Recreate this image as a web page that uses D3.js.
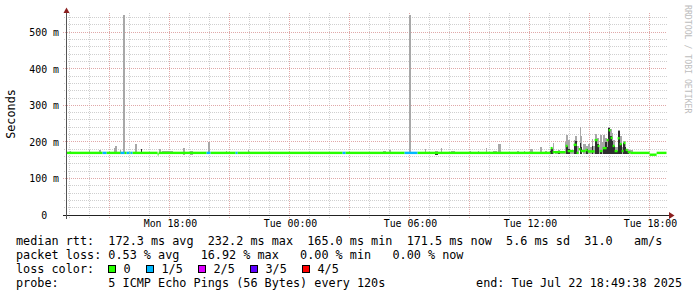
<!DOCTYPE html>
<html>
<head>
<meta charset="utf-8">
<script src="https://cdn.jsdelivr.net/npm/d3@7"></script>
<style>
body { margin: 0; background: #fff; }
svg { display: block; }
text { font-family: "DejaVu Sans Mono", monospace; }
</style>
</head>
<body>
<script>
// time window of the graph
const startTime = new Date(Date.UTC(2025, 6, 21, 12, 49, 38));
const endTime = new Date(Date.UTC(2025, 6, 22, 18, 49, 38));

// median rtt in ms, each step holds until the next time
const medianTimes = ["Mon 12:50", "Mon 14:38", "Mon 14:50", "Mon 15:32", "Mon 15:44", "Mon 15:50", "Mon 15:59",
  "Mon 16:02", "Mon 16:08", "Mon 17:23", "Mon 17:26", "Mon 19:50", "Mon 20:02", "Mon 21:17", "Mon 21:23",
  "Tue 02:38", "Tue 02:47", "Tue 05:44", "Tue 06:23", "Tue 13:02", "Tue 13:08", "Tue 13:47", "Tue 13:53",
  "Tue 14:11", "Tue 14:20", "Tue 14:26", "Tue 14:32", "Tue 14:47", "Tue 14:53", "Tue 15:14", "Tue 15:23",
  "Tue 15:29", "Tue 15:38", "Tue 15:50", "Tue 15:56", "Tue 16:02", "Tue 16:08", "Tue 16:14", "Tue 16:23",
  "Tue 16:29", "Tue 16:35", "Tue 16:41", "Tue 16:47", "Tue 16:53", "Tue 17:02", "Tue 17:59", "Tue 18:20"];
const medianMs = [170, 170, 170, 170, 170, 170, 170,
  170, 170, 166, 170, 170, 170, 170, 170,
  170, 170, 170, 170, 183, 172, 189, 175,
  192, 170, 180, 175, 178, 174, 205, 189,
  175, 183, 205, 232, 211, 189, 175, 210,
  194, 175, 197, 178, 172, 170, 165, 170];
// lost pings out of 5 for each step
const medianLoss = [0, 1, 0, 1, 0, 1, 0,
  1, 0, 0, 0, 1, 0, 1, 0,
  1, 0, 1, 0, 0, 0, 0, 0,
  0, 0, 0, 0, 0, 0, 0, 0,
  0, 0, 0, 0, 0, 0, 0, 0,
  0, 0, 0, 0, 0, 0, 0, 0];

// smoke (spread of the pings), in ms
const smokeFrom = ["Mon 12:59", "Mon 13:56", "Mon 14:26", "Mon 15:11", "Mon 15:14", "Mon 15:29", "Mon 15:38",
  "Mon 16:14", "Mon 16:32", "Mon 17:26", "Mon 17:35", "Mon 18:38", "Mon 18:59", "Mon 19:53", "Mon 20:47",
  "Mon 21:53", "Tue 04:38", "Tue 04:56", "Tue 05:56", "Tue 06:44", "Tue 07:14", "Tue 07:32", "Tue 08:02",
  "Tue 08:59", "Tue 09:23", "Tue 09:47", "Tue 10:08", "Tue 10:23", "Tue 11:20", "Tue 11:41", "Tue 11:59",
  "Tue 12:29", "Tue 12:44", "Tue 12:59", "Tue 13:02", "Tue 13:08", "Tue 13:14", "Tue 13:23", "Tue 13:29",
  "Tue 13:44", "Tue 13:47", "Tue 13:53", "Tue 13:59", "Tue 14:11", "Tue 14:14", "Tue 14:20", "Tue 14:29",
  "Tue 14:32", "Tue 14:38", "Tue 14:47", "Tue 14:53", "Tue 14:59", "Tue 15:05", "Tue 15:08", "Tue 15:14",
  "Tue 15:20", "Tue 15:26", "Tue 15:29", "Tue 15:35", "Tue 15:38", "Tue 15:44", "Tue 15:50", "Tue 15:53",
  "Tue 15:59", "Tue 16:05", "Tue 16:08", "Tue 16:14", "Tue 16:23", "Tue 16:29", "Tue 16:35", "Tue 16:38",
  "Tue 16:44", "Tue 16:47", "Tue 16:56"];
const smokeTo = ["Mon 13:02", "Mon 13:59", "Mon 14:32", "Mon 15:14", "Mon 15:20", "Mon 15:32", "Mon 15:44",
  "Mon 16:20", "Mon 16:35", "Mon 17:32", "Mon 18:08", "Mon 18:44", "Mon 19:08", "Mon 19:59", "Mon 20:50",
  "Mon 21:56", "Tue 04:47", "Tue 05:02", "Tue 06:02", "Tue 06:47", "Tue 07:23", "Tue 07:35", "Tue 08:14",
  "Tue 09:02", "Tue 09:26", "Tue 09:50", "Tue 10:20", "Tue 10:32", "Tue 11:26", "Tue 11:44", "Tue 12:08",
  "Tue 12:35", "Tue 12:50", "Tue 13:02", "Tue 13:08", "Tue 13:11", "Tue 13:23", "Tue 13:29", "Tue 13:44",
  "Tue 13:47", "Tue 13:53", "Tue 13:59", "Tue 14:11", "Tue 14:14", "Tue 14:20", "Tue 14:26", "Tue 14:32",
  "Tue 14:35", "Tue 14:47", "Tue 14:53", "Tue 14:59", "Tue 15:05", "Tue 15:08", "Tue 15:14", "Tue 15:20",
  "Tue 15:26", "Tue 15:29", "Tue 15:35", "Tue 15:38", "Tue 15:44", "Tue 15:50", "Tue 15:53", "Tue 15:59",
  "Tue 16:05", "Tue 16:08", "Tue 16:14", "Tue 16:23", "Tue 16:29", "Tue 16:35", "Tue 16:38", "Tue 16:44",
  "Tue 16:47", "Tue 16:56", "Tue 17:08"];
const smokeHighMs = [176, 177, 178, 183, 189, 177, 547,
  194, 180, 180, 175, 183, 176, 200, 176,
  178, 176, 178, 548, 180, 176, 183, 175,
  176, 176, 183, 175, 194, 176, 176, 180,
  187, 176, 180, 184, 198, 176, 178, 176,
  200, 220, 205, 178, 205, 216, 190, 240,
  215, 194, 190, 194, 185, 208, 190, 222,
  210, 185, 219, 200, 220, 212, 200, 241,
  235, 224, 205, 185, 233, 215, 185, 203,
  195, 180, 178];
const smokeCoreMs = [0, 0, 0, 0, 0, 0, 0,
  0, 180, 0, 0, 0, 0, 0, 0,
  0, 0, 0, 0, 0, 172, 0, 0,
  0, 0, 0, 0, 0, 0, 0, 0,
  0, 0, 176, 181, 0, 0, 174, 0,
  0, 190, 180, 0, 195, 203, 0, 198,
  185, 0, 180, 0, 0, 190, 0, 209,
  195, 0, 178, 0, 185, 200, 185, 238,
  215, 203, 190, 175, 230, 195, 0, 198,
  185, 176, 0];
const smokeLowMs = [168, 168, 168, 168, 168, 168, 168,
  168, 168, 168, 168, 164, 165, 168, 168,
  168, 168, 168, 168, 168, 163, 168, 168,
  168, 168, 168, 168, 168, 168, 168, 168,
  168, 168, 168, 168, 168, 168, 168, 168,
  168, 168, 168, 168, 168, 168, 168, 168,
  168, 168, 168, 168, 168, 168, 168, 168,
  168, 168, 168, 168, 168, 168, 168, 168,
  168, 168, 168, 168, 168, 168, 168, 168,
  168, 168, 168];

// legend
const lossLabels = ["0", "1/5", "2/5", "3/5", "4/5"];
const lossColors = ["#26ff00", "#00b8ff", "#dd00ff", "#5e00ff", "#ff0000"];
const legendLines = [
  "median rtt:  172.3 ms avg  232.2 ms max  165.0 ms min  171.5 ms now  5.6 ms sd  31.0   am/s",
  "packet loss: 0.53 % avg   16.92 % max   0.00 % min   0.00 % now",
  "loss color:",
  "probe:       5 ICMP Echo Pings (56 Bytes) every 120s"
];
const endLabel = "end: Tue Jul 22 18:49:38 2025";

const parseTime = d3.utcParse("%Y-%m-%d %H:%M");
function toDate(s) {
  const day = s.slice(0, 3) === "Mon" ? "2025-07-21" : "2025-07-22";
  return parseTime(day + " " + s.slice(4));
}

const width = 697;
const height = 297;

const svg = d3.select("body")
  .append("svg")
  .attr("width", width)
  .attr("height", height);

const x = d3.scaleUtc()
  .domain([startTime, endTime])
  .range([66.5, 666.5]);

const y = d3.scaleLinear()
  .domain([0, 0.55])
  .range([215, 215 - 0.55 * 365.4]);

const px = v => Math.floor(v) + 0.5;

//Grid lines, minor first then major.
const minorY = d3.range(0, 0.55, 0.02).filter(v => Math.round(v * 1000) % 100 !== 0);
const majorY = [0.1, 0.2, 0.3, 0.4, 0.5];
const hours = d3.utcHour.every(1).range(startTime, endTime);
const minorX = hours.filter(d => d.getUTCHours() % 3 !== 0);
const majorX = hours.filter(d => d.getUTCHours() % 3 === 0);

const grid = svg.append("g").attr("stroke-dasharray", "1,1").attr("shape-rendering", "crispEdges");
grid.selectAll(".hmin").data(minorY).join("line")
  .attr("x1", 64).attr("x2", 667)
  .attr("y1", d => px(y(d))).attr("y2", d => px(y(d)))
  .attr("stroke", "#cfcfcf");
grid.selectAll(".vmin").data(minorX).join("line")
  .attr("x1", d => px(x(d))).attr("x2", d => px(x(d)))
  .attr("y1", 13).attr("y2", 218)
  .attr("stroke", "#cfcfcf");
grid.selectAll(".hmaj").data(majorY).join("line")
  .attr("x1", 63).attr("x2", 667)
  .attr("y1", d => px(y(d))).attr("y2", d => px(y(d)))
  .attr("stroke", "#e0a8a8");
grid.selectAll(".vmaj").data(majorX).join("line")
  .attr("x1", d => px(x(d))).attr("x2", d => px(x(d)))
  .attr("y1", 13).attr("y2", 219)
  .attr("stroke", "#e0a8a8");

//Smoke: light spread, then the dense core.
const smoke = smokeFrom.map((f, i) => ({
  t0: toDate(f), t1: toDate(smokeTo[i]),
  hi: smokeHighMs[i] / 1000, core: smokeCoreMs[i] / 1000, lo: smokeLowMs[i] / 1000
}));

const data = svg.append("g").attr("shape-rendering", "crispEdges");
data.selectAll(".smoke").data(smoke).join("rect")
  .attr("x", d => x(d.t0))
  .attr("width", d => x(d.t1) - x(d.t0))
  .attr("y", d => y(d.hi))
  .attr("height", d => y(d.lo) - y(d.hi))
  .attr("fill", "#a8a8a8");
data.selectAll(".core").data(smoke.filter(d => d.core > 0)).join("rect")
  .attr("x", d => x(d.t0))
  .attr("width", d => x(d.t1) - x(d.t0))
  .attr("y", d => y(d.core))
  .attr("height", d => y(d.lo) - y(d.core))
  .attr("fill", "#2e2e2e");

//Median line coloured by loss.
const median = medianTimes.map((t, i) => ({
  t0: toDate(t),
  t1: i + 1 < medianTimes.length ? toDate(medianTimes[i + 1]) : endTime,
  v: medianMs[i] / 1000,
  loss: medianLoss[i]
}));
svg.append("g").selectAll("rect").data(median).join("rect")
  .attr("x", d => x(d.t0))
  .attr("width", d => x(d.t1) - x(d.t0))
  .attr("y", d => y(d.v) - 1.2)
  .attr("height", 2.4)
  .attr("fill", d => lossColors[d.loss]);

//Axes.
const yAxis = d3.axisLeft(y)
  .tickValues([0, 0.1, 0.2, 0.3, 0.4, 0.5])
  .tickSize(0)
  .tickPadding(8)
  .tickFormat(d => d === 0 ? "0\u00a0\u00a0" : Math.round(d * 1000) + " m");
svg.append("g")
  .attr("transform", "translate(67,0)")
  .call(yAxis)
  .call(g => g.select(".domain").remove())
  .selectAll("text")
  .attr("font-family", "DejaVu Sans Mono")
  .attr("font-size", "9.9px")
  .attr("fill", "#000");

const xAxis = d3.axisBottom(x)
  .ticks(d3.utcHour.every(6))
  .tickSize(0)
  .tickPadding(5)
  .tickFormat(d3.utcFormat("%a %H:%M"));
svg.append("g")
  .attr("transform", "translate(0,215)")
  .call(xAxis)
  .call(g => g.select(".domain").remove())
  .selectAll("text")
  .attr("font-family", "DejaVu Sans Mono")
  .attr("font-size", "9.9px")
  .attr("fill", "#000");

//Axis lines with arrows.
svg.append("line").attr("x1", 63).attr("x2", 670).attr("y1", 215.5).attr("y2", 215.5)
  .attr("stroke", "#222").attr("shape-rendering", "crispEdges");
svg.append("line").attr("x1", 66.5).attr("x2", 66.5).attr("y1", 219).attr("y2", 12)
  .attr("stroke", "#555").attr("shape-rendering", "crispEdges");
svg.append("path").attr("d", "M669,212L669,219L674.5,215.5Z").attr("fill", "#8b1f1f");
svg.append("path").attr("d", "M63.5,13L69.5,13L66.5,7.5Z").attr("fill", "#8b1f1f");

//Vertical unit label.
svg.append("text")
  .attr("transform", "translate(15,114) rotate(-90)")
  .attr("text-anchor", "middle")
  .attr("font-size", "11.8px")
  .text("Seconds");

//Watermark.
svg.append("text")
  .attr("transform", "translate(684.5,5) rotate(90)")
  .attr("font-size", "8.2px")
  .attr("fill", "#bdbdbd")
  .text("RRDTOOL / TOBI OETIKER");

//Legend lines.
const legend = svg.append("g").attr("font-size", "11.8px").attr("fill", "#000");
legend.selectAll(".line").data(legendLines).join("text")
  .attr("x", 16)
  .attr("y", (d, i) => 245 + i * 14)
  .attr("xml:space", "preserve")
  .style("white-space", "pre")
  .text(d => d);

legend.append("text")
  .attr("x", 682)
  .attr("y", 287)
  .attr("text-anchor", "end")
  .text(endLabel);

//Loss colour swatches.
let cx = 108.5;
lossLabels.forEach((label, i) => {
  legend.append("rect")
    .attr("x", cx).attr("y", 265.5)
    .attr("width", 7).attr("height", 7)
    .attr("fill", lossColors[i])
    .attr("stroke", "#000")
    .attr("shape-rendering", "crispEdges");
  const t = legend.append("text")
    .attr("x", cx + 15)
    .attr("y", 273)
    .text(label);
  cx = cx + 15 + t.node().getComputedTextLength() + 15.3;
  cx = Math.round(cx) + 0.5;
});
</script>
</body>
</html>
